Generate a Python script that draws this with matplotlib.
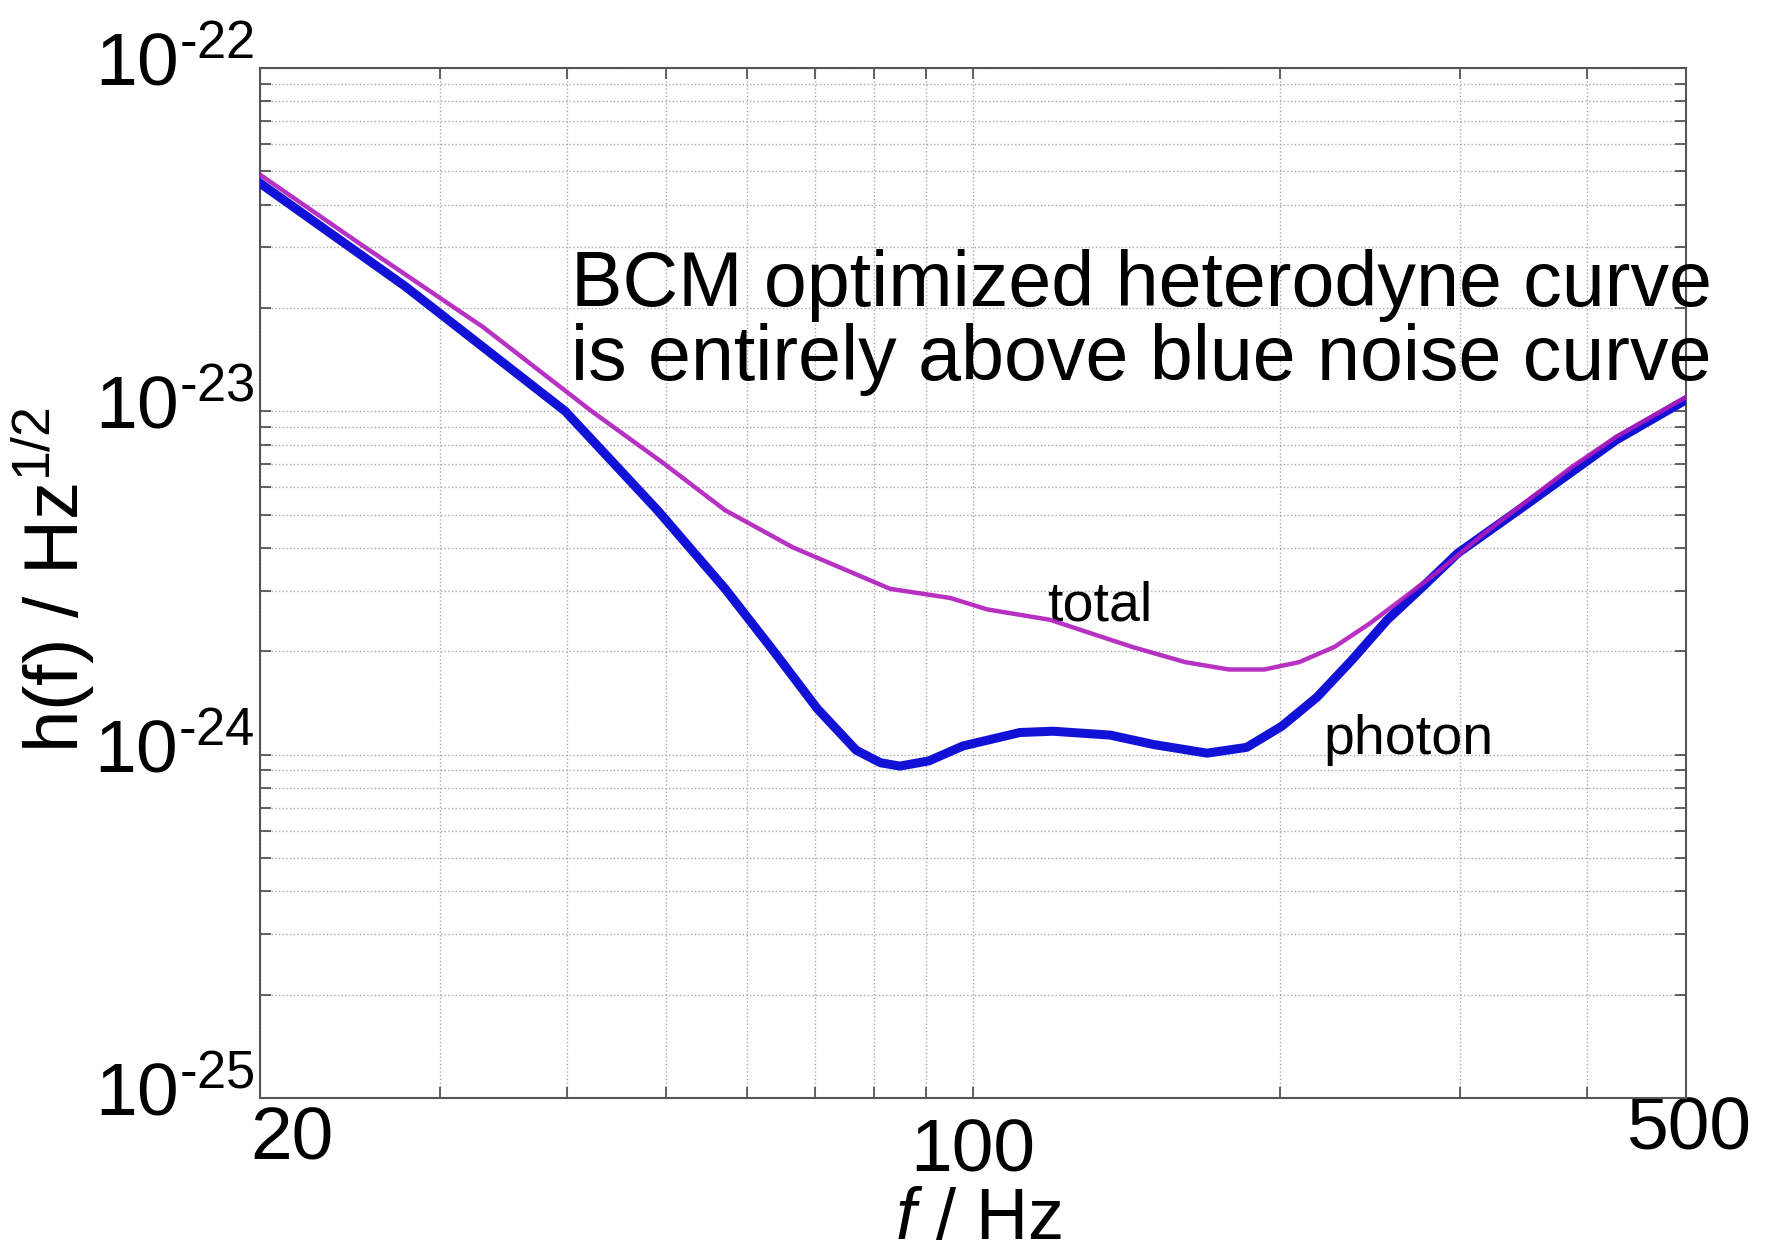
import matplotlib
matplotlib.use('Agg')
import matplotlib.pyplot as plt
from matplotlib.ticker import FixedLocator, LogLocator, NullFormatter
from matplotlib.transforms import ScaledTranslation

plt.rcParams['font.family'] = ['Liberation Sans', 'DejaVu Sans']
plt.rcParams['mathtext.fontset'] = 'custom'
plt.rcParams['mathtext.rm'] = 'Liberation Sans'
plt.rcParams['mathtext.it'] = 'Liberation Sans:italic'
plt.rcParams['mathtext.bf'] = 'Liberation Sans:bold'

# photon noise curve (blue)
photon_f = [20, 27.77, 39.85, 49.06, 57.16, 63.79, 70.39, 76.83, 81.17, 84.80,
            90.54, 97.78, 111.2, 119.8, 136.3, 150.4, 169.6, 185.5, 200.8, 217.4,
            235.4, 254.8, 275.9, 298.7, 350.3, 427.2, 500]
photon_h = [4.62e-23, 2.31e-23, 1.00e-23, 5.15e-24, 3.04e-24, 2.00e-24, 1.36e-24,
            1.03e-24, 9.47e-25, 9.26e-25, 9.59e-25, 1.06e-24, 1.16e-24, 1.17e-24,
            1.14e-24, 1.07e-24, 1.01e-24, 1.05e-24, 1.21e-24, 1.47e-24, 1.89e-24,
            2.47e-24, 3.08e-24, 3.86e-24, 5.40e-24, 8.25e-24, 1.08e-23]

# total curve (magenta)
total_f = [20, 25.17, 33.09, 42.3, 49.60, 57.16, 66.65, 82.96, 95.0, 103.2, 119.0,
           143.2, 161.4, 178.2, 193.0, 208.9, 226.2, 244.9, 265.2, 287.1, 317.2,
           350.3, 386.8, 427.2, 500]
total_h = [4.89e-23, 3.05e-23, 1.76e-23, 1.00e-23, 7.10e-24, 5.15e-24, 4.01e-24,
           3.04e-24, 2.86e-24, 2.65e-24, 2.47e-24, 2.06e-24, 1.86e-24, 1.77e-24,
           1.77e-24, 1.86e-24, 2.06e-24, 2.41e-24, 2.88e-24, 3.45e-24, 4.41e-24,
           5.52e-24, 6.90e-24, 8.43e-24, 1.10e-23]

x_ticks = [20, 100, 500]
x_ticklabels = ['20', '100', '500']
x_minor = [30, 40, 50, 60, 70, 80, 90, 200, 300, 400]
y_ticks = [1e-25, 1e-24, 1e-23, 1e-22]
y_ticklabels = [r'$10^{\text{-}25}$', r'$10^{\text{-}24}$',
                r'$10^{\text{-}23}$', r'$10^{\text{-}22}$']

fig = plt.figure(figsize=(17.89, 12.45), dpi=100)
ax = fig.add_axes([0.1453, 0.1181, 0.7971, 0.8273])

ax.plot(photon_f, photon_h, color='#1212d6', lw=6.5, solid_joinstyle='round', zorder=3)
ax.plot(total_f, total_h, color='#b01cbc', lw=3.2, alpha=0.9, solid_joinstyle='round', zorder=4)

ax.set_xscale('log')
ax.set_yscale('log')
ax.set_xlim(20, 500)
ax.set_ylim(1e-25, 1e-22)

ax.xaxis.set_major_locator(FixedLocator(x_ticks))
ax.xaxis.set_minor_locator(FixedLocator(x_minor))
ax.xaxis.set_minor_formatter(NullFormatter())
ax.set_xticklabels(x_ticklabels)
ax.set_yticks(y_ticks, y_ticklabels)
ax.yaxis.set_minor_locator(LogLocator(10, subs=range(2, 10)))
ax.yaxis.set_minor_formatter(NullFormatter())

ax.grid(True, which='both', ls=':', color='#a8a8a8', lw=1.0)
ax.tick_params(which='both', direction='in', top=True, right=True,
               length=8, width=1.3, color='#555555', labelsize=54)
ax.tick_params(axis='x', pad=0)
ax.tick_params(axis='y', pad=4)
for s in ax.spines.values():
    s.set_color('#555555')
    s.set_linewidth(1.5)

# odd tick label placement of the original
offsets = [(32, -8), (0, -20), (4, 3)]
for lab, (dx, dy) in zip(ax.get_xticklabels(), offsets):
    lab.set_transform(lab.get_transform() + ScaledTranslation(dx / 100, dy / 100, fig.dpi_scale_trans))
for lab in ax.get_yticklabels():
    lab.set_transform(lab.get_transform() + ScaledTranslation(0, 10 / 100, fig.dpi_scale_trans))

fig.text(0.3192, 0.7542, 'BCM optimized heterodyne curve', fontsize=55.5, va='baseline')
fig.text(0.3192, 0.6948, 'is entirely above blue noise curve', fontsize=55.5, va='baseline')
ax.text(118.2, 2.46e-24, 'total', fontsize=40, va='baseline')
ax.text(220.4, 1.004e-24, 'photon', fontsize=40, va='baseline')

fig.text(0.0440, 0.395, 'h(f) / Hz$^{1/2}$', fontsize=55, rotation=90,
         rotation_mode='anchor', ha='left', va='baseline')
fig.text(0.5467, 0.0466, '$f$ / Hz', fontsize=52, ha='center', va='top')

fig.savefig('out.png', dpi=100)
